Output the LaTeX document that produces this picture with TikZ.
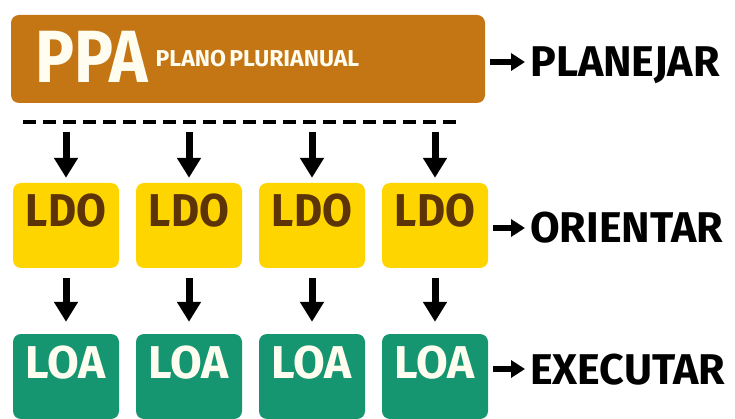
\documentclass[tikz,border=0pt]{standalone}
\usepackage{fontspec}
\setmainfont{Fira Sans}
\usetikzlibrary{arrows.meta}
\begin{document}
\begin{tikzpicture}[x=1pt, y=-1pt,
  ppabox/.style={fill=PpaOrange, rounded corners=8pt, inner xsep=24pt, inner ysep=0pt,
    text width=426pt, align=left, text height=68pt, text depth=20pt, text=MyCream},
  ldobox/.style={fill=LdoYellow, rounded corners=8pt, inner sep=0pt, minimum width=106pt,
    text height=44pt, text depth=41pt, text=LdoBrown, font=\bfseries\fontsize{46}{46}\selectfont},
  loabox/.style={ldobox, fill=LoaGreen, text=MyCream},
  stage/.style={anchor=west, inner sep=0pt, text height=30pt, text depth=0pt,
    font=\bfseries\fontsize{43}{43}\selectfont},
  downarrow/.style={line width=7pt, -{Triangle[width=23pt, length=20pt]}},
  rightarrow/.style={line width=6pt, -{Triangle[width=17pt, length=14pt]}, shorten <=5pt, shorten >=5pt}]
\definecolor{PpaOrange}{RGB}{196, 118, 20}
\definecolor{LdoYellow}{RGB}{255, 213, 0}
\definecolor{LdoBrown}{RGB}{92, 52, 8}
\definecolor{LoaGreen}{RGB}{22, 150, 112}
\definecolor{MyCream}{RGB}{255, 252, 240}
\useasboundingbox (0,0) rectangle (735,419);
\node[ppabox] (ppa) at (248,59) {\scalebox{0.88}[1]{\bfseries\fontsize{74}{74}\selectfont PPA}\hspace{8pt}\raisebox{16pt}{\bfseries\fontsize{23}{23}\selectfont PLANO PLURIANUAL}};
\coordinate (dl) at (23,122);
\coordinate (dr) at (463,122);
\draw[line width=4pt, dash pattern=on 13pt off 7pt] (dl) -- (dr);
\foreach \i/\x in {1/66, 2/189, 3/312, 4/435}{
\node[ldobox] (ldo\i) at (\x,225.5) {\scalebox{0.94}[1]{LDO}};
\node[loabox] (loa\i) at (\x,376.5) {LOA};
\coordinate (top\i) at (\x,132);
\draw[downarrow] (top\i) -- ([yshift=5pt]ldo\i.north);
\draw[downarrow] ([yshift=-10pt]ldo\i.south) -- ([yshift=12pt]loa\i.north);
}
\node[stage] (planejar) at (530,62) {PLANEJAR};
\node[stage] (orientar) at (530,228) {ORIENTAR};
\node[stage] (executar) at (530,369) {EXECUTAR};
\draw[rightarrow] (ppa.east |- planejar.west) -- (planejar.west);
\draw[rightarrow] (ldo4.east |- orientar.west) -- (orientar.west);
\draw[rightarrow] (loa4.east |- executar.west) -- (executar.west);
\end{tikzpicture}
\end{document}
